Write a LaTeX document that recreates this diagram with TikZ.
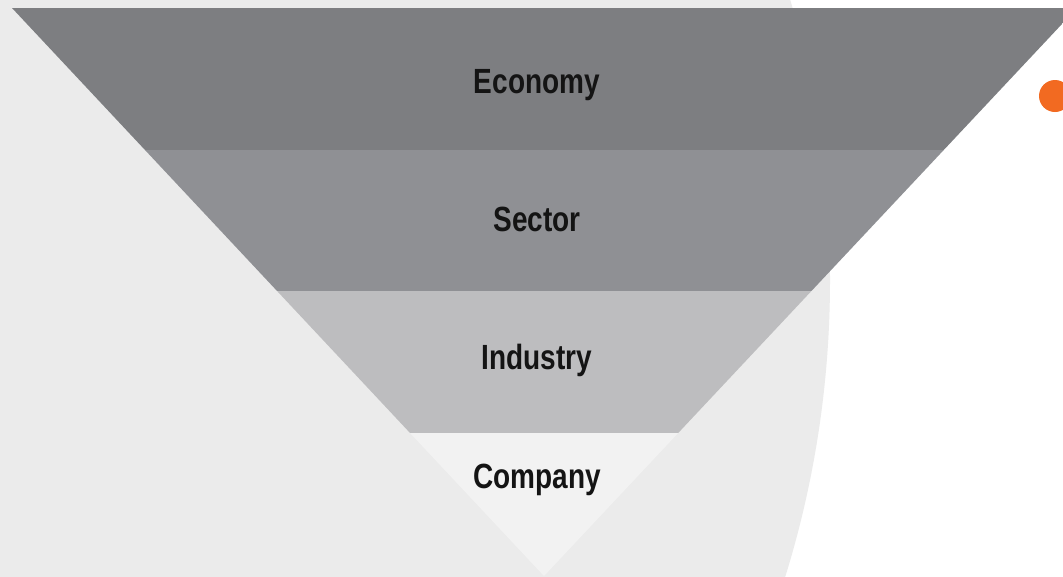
\documentclass[tikz,border=0pt]{standalone}
\usepackage{fontspec}
\setmainfont{Liberation Sans}
\newfontfamily\labelfont[FakeStretch=0.8]{Liberation Sans}
\definecolor{pagebg}{HTML}{FFFFFF}
\definecolor{panel}{HTML}{EBEBEB}
\definecolor{bandA}{HTML}{7D7E81}
\definecolor{bandB}{HTML}{8F9094}
\definecolor{bandC}{HTML}{BDBDBF}
\definecolor{bandD}{HTML}{F2F2F2}
\definecolor{accent}{HTML}{F26A21}
\definecolor{ink}{HTML}{141414}
\tikzset{
  level/.style={font=\labelfont\bfseries\fontsize{35}{40}\selectfont, text=ink, inner sep=0pt},
}
\begin{document}
\begin{tikzpicture}[x=1pt,y=-1pt]
  % canvas
  \fill[pagebg] (0,0) rectangle (1063,576);
  \useasboundingbox (0,0) rectangle (1063,576);
  % light panel with curved right edge
  \begin{scope}
    \clip (0,0) rectangle (1063,576);
    \fill[panel] (-170,280) circle[radius=1000];
  \end{scope}
  % inverted pyramid, cut into four bands
  \coordinate (tl) at (12,8);
  \coordinate (tr) at (1077,8);
  \coordinate (apex) at (544,576);
  \begin{scope}
    \clip (0,0) rectangle (1063,576);
    \clip (tl) -- (tr) -- (apex) -- cycle;
    \fill[bandA] (0,8)   rectangle (1100,150);
    \fill[bandB] (0,150) rectangle (1100,291);
    \fill[bandC] (0,291) rectangle (1100,433);
    \fill[bandD] (0,433) rectangle (1100,580);
  \end{scope}
  % accent dot
  \fill[accent] (1055,96) circle[radius=16];
  % labels
  \node[level, anchor=base] (economy)  at (537,93)  {Economy};
  \node[level, anchor=base] (sector)   at (537,231) {Sector};
  \node[level, anchor=base] (industry) at (537,369) {Industry};
  \node[level, anchor=base] (company)  at (537,488) {Company};
\end{tikzpicture}
\end{document}
